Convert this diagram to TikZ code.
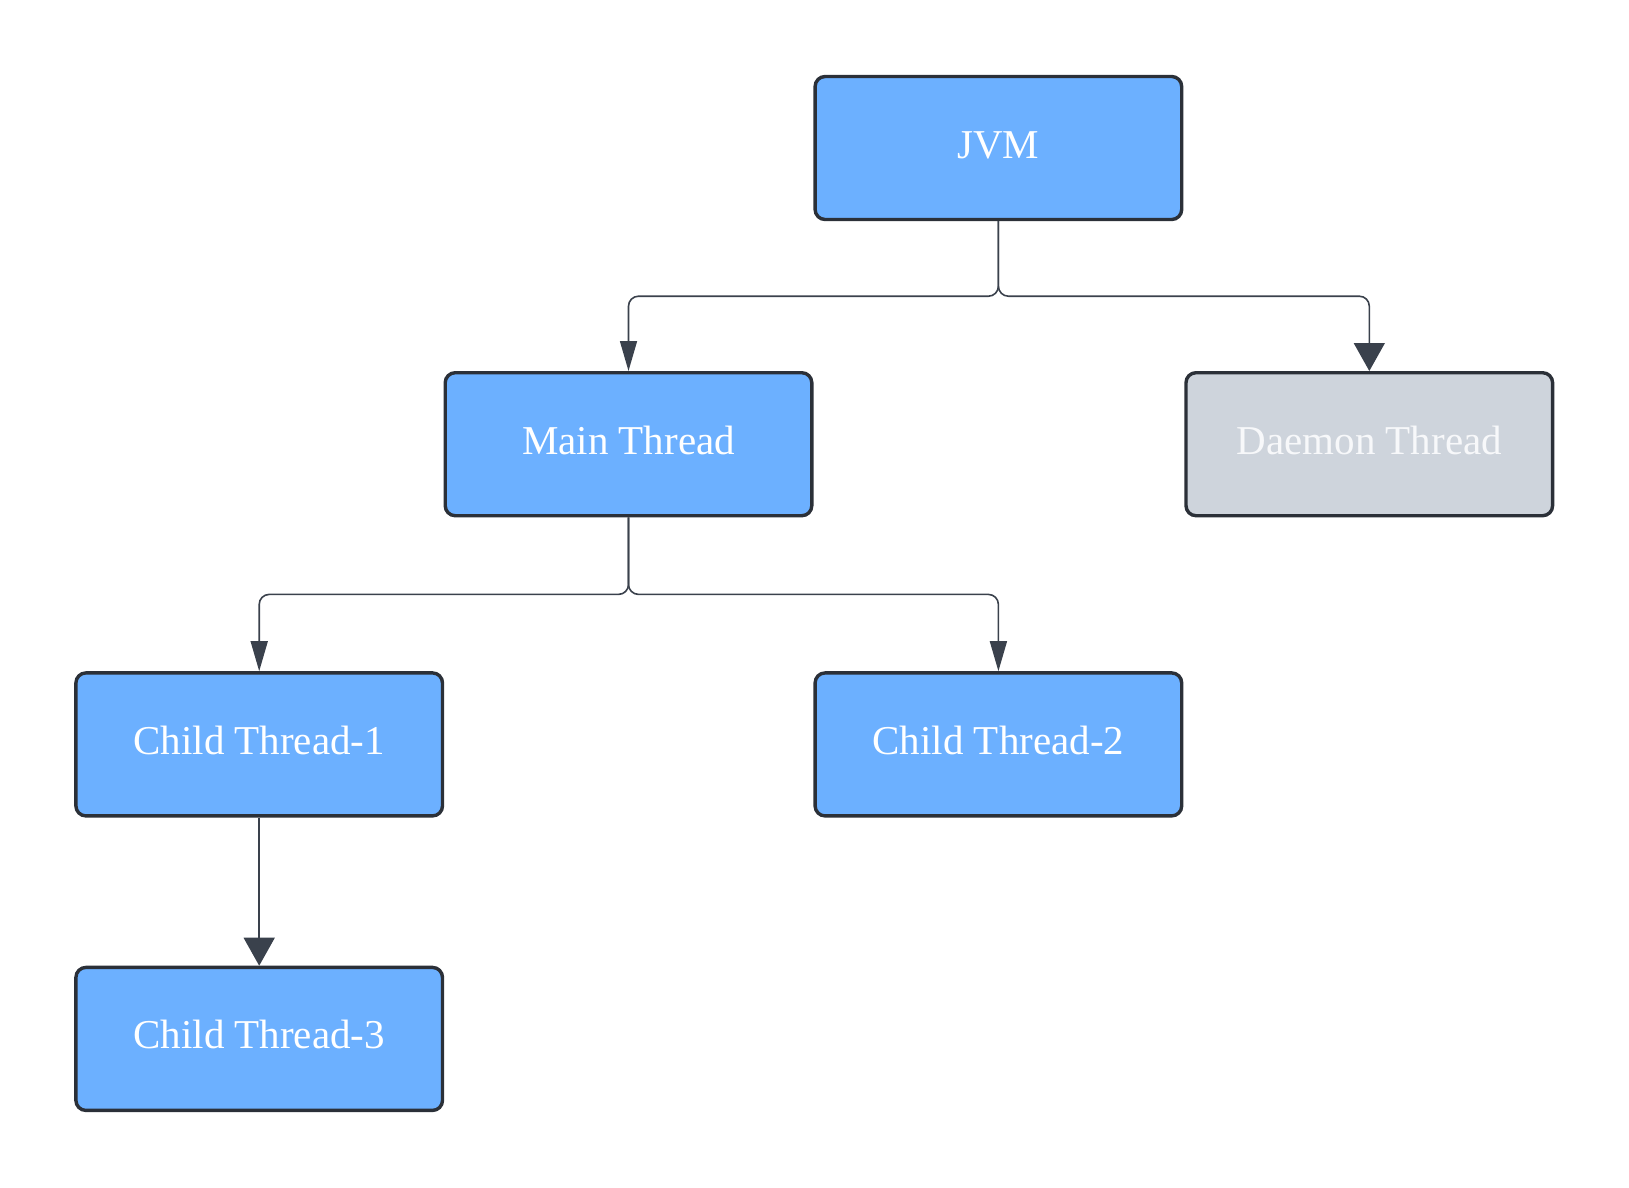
\documentclass[tikz,border=0pt]{standalone}
\usepackage{fontspec}
\setmainfont{Liberation Serif}
\usetikzlibrary{arrows.meta}
\definecolor{boxblue}{HTML}{6CB0FF}
\definecolor{boxgray}{HTML}{CED4DC}
\definecolor{edgedark}{HTML}{2B3038}
\definecolor{linedark}{HTML}{3A414C}
\definecolor{graytext}{HTML}{F7F8FA}
\tikzset{
  tbox/.style={draw=edgedark, line width=3.4pt, fill=boxblue, rounded corners=10pt,
    minimum width=366.6pt, minimum height=143pt, inner sep=0pt, text=white,
    text height=28pt, text depth=8pt,
    font=\fontsize{41}{49}\selectfont},
  graybox/.style={tbox, fill=boxgray, text=graytext},
  conn/.style={draw=linedark, line width=1.6pt, rounded corners=10pt},
  smalltip/.style={-{Triangle[length=30pt,width=17pt]}},
  bigtip/.style={-{Triangle[length=28pt,width=31pt]}}
}
\begin{document}
\begin{tikzpicture}[x=1pt,y=-1pt]
\useasboundingbox (0,0) rectangle (1629,1187);
\node[tbox] (jvm) at (998.4,148) {JVM};
\node[tbox] (main) at (628.5,444.2) {Main Thread};
\node[graybox] (daemon) at (1369.3,444.2) {Daemon Thread};
\node[tbox] (c1) at (259.2,744.4) {Child Thread-1};
\node[tbox] (c2) at (998.4,744.4) {Child Thread-2};
\node[tbox] (c3) at (259.2,1038.9) {Child Thread-3};
\draw[conn, smalltip] (jvm.south) -- ++(0,75) -| (main.north);
\draw[conn, bigtip] (jvm.south) -- ++(0,75) -| (daemon.north);
\draw[conn, smalltip] (main.south) -- ++(0,77) -| (c1.north);
\draw[conn, smalltip] (main.south) -- ++(0,77) -| (c2.north);
\draw[conn, bigtip] (c1.south) -- (c3.north);
\end{tikzpicture}
\end{document}
